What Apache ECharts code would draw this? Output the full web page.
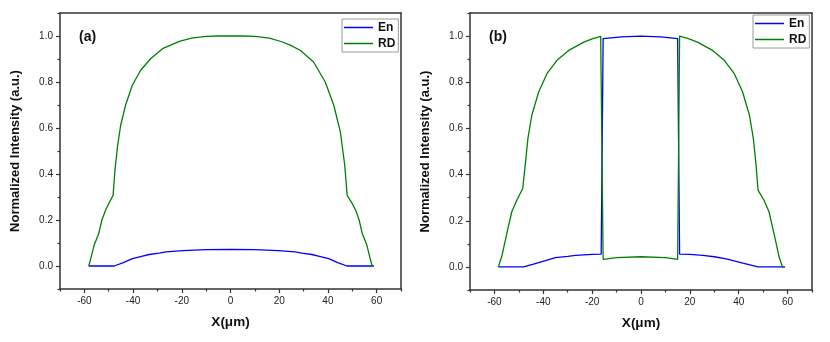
<!DOCTYPE html>
<html>
<head>
<meta charset="utf-8">
<script src="https://cdn.jsdelivr.net/npm/echarts@6/dist/echarts.min.js"></script>
<style>
  html, body { margin: 0; padding: 0; background: #fff; }
  #chart { width: 830px; height: 342px; }
</style>
</head>
<body>
<div id="chart"></div>
<script>
// panel (a)
const enA = [[-58.2,0],[-47.8,0],[-44,0.015],[-40.3,0.032],[-36.5,0.042],[-33.4,0.05],[-29.3,0.056],[-26.5,0.061],
  [-19.6,0.067],[-10,0.071],[0,0.072],[10,0.071],[19.6,0.067],[26.5,0.061],[29.3,0.056],[33.4,0.05],[36.5,0.042],
  [40.3,0.032],[44,0.015],[47.8,0],[58.8,0]]
const rdA = [[-58.2,0],[-57.2,0.04],[-56,0.09],[-54.1,0.141],[-52.8,0.2],[-51.3,0.242],[-49.8,0.275],[-48.2,0.307],
  [-47.5,0.409],[-46.5,0.51],[-45.1,0.612],[-43.1,0.699],[-40.3,0.786],[-36.9,0.851],[-32.7,0.902],[-27.9,0.945],
  [-21,0.977],[-16,0.991],[-10,0.998],[-5,1.0],[0,1.0],[5,1.0],[10,0.998],[16,0.991],[21,0.975],[24.5,0.96],
  [28.6,0.938],[34.1,0.887],[38.9,0.8],[42.4,0.699],[45.1,0.583],[46.9,0.438],[47.9,0.307],[50,0.271],
  [51.5,0.24],[52.8,0.2],[54.1,0.141],[56,0.09],[57.4,0.03],[58.2,0],[58.8,0]]
// panel (b)
const enB = [[-58.4,0],[-48.1,0],[-44,0.012],[-40.5,0.023],[-35,0.04],[-30,0.046],[-26.8,0.05],[-20,0.054],
  [-16.3,0.055],[-15.5,0.989],[-8,0.997],[0,1.0],[8,0.997],[15,0.989],[15.8,0.055],[20,0.054],[25.3,0.05],
  [30,0.044],[34.9,0.035],[41.7,0.016],[47.9,0],[58.9,0]]
const rdB = [[-58.4,0],[-57,0.045],[-54.9,0.146],[-52.9,0.239],[-50.8,0.29],[-48.4,0.34],[-47.4,0.441],[-46.3,0.556],
  [-44.7,0.657],[-41.9,0.758],[-38.5,0.837],[-34.4,0.895],[-29.6,0.938],[-23.4,0.974],[-20,0.988],[-16.5,0.999],
  [-16.3,1.0],[-15.5,0.033],[-10,0.04],[0,0.044],[10,0.04],[15,0.033],[15.8,1.0],[16.2,0.999],[19.7,0.988],
  [23.1,0.974],[29.3,0.938],[34.1,0.895],[38.2,0.837],[41.6,0.758],[44.4,0.657],[46,0.556],[47.1,0.441],
  [47.9,0.333],[50.3,0.29],[52.4,0.239],[54.4,0.146],[56.5,0.045],[57.9,0],[58.9,0]]

const xMajor = [-60, -40, -20, 0, 20, 40, 60]
const xMinor = [-70, -50, -30, -10, 10, 30, 50, 70]
const yMajor = [0, 0.2, 0.4, 0.6, 0.8, 1.0]
const yMinor = [-0.1, 0.1, 0.3, 0.5, 0.7, 0.9, 1.1]
const panelTags = ['(a)', '(b)']

const font = '"Liberation Sans", Arial, sans-serif'
const lineCol = '#333'

function xAxes(g) {
  const base = { gridIndex: g, type: 'value', min: -70, max: 70, interval: 10, splitLine: { show: false } }
  return [
    Object.assign({}, base, {
      position: 'bottom',
      name: 'X(μm)', nameLocation: 'middle', nameGap: 26,
      nameTextStyle: { fontFamily: font, fontSize: 13.5, fontWeight: 'bold', color: '#111' },
      axisLine: { show: true, onZero: false, lineStyle: { color: lineCol, width: 1.5 } },
      axisTick: { show: true, length: 4, customValues: xMajor, lineStyle: { color: lineCol, width: 1.2 } },
      axisLabel: { customValues: xMajor, margin: 7, fontFamily: font, fontSize: 10, color: '#222' }
    }),
    Object.assign({}, base, {
      position: 'bottom',
      axisLine: { show: false, onZero: false },
      axisTick: { show: true, length: 2.5, customValues: xMinor, lineStyle: { color: lineCol, width: 1.2 } },
      axisLabel: { show: false }
    }),
    Object.assign({}, base, {
      position: 'top',
      axisLine: { show: true, onZero: false, lineStyle: { color: lineCol, width: 1.5 } },
      axisTick: { show: false }, axisLabel: { show: false }
    })
  ]
}

function yAxes(g) {
  const base = { gridIndex: g, type: 'value', min: -0.1, max: 1.1, interval: 0.1, splitLine: { show: false } }
  return [
    Object.assign({}, base, {
      position: 'left',
      name: 'Normalized Intensity (a.u.)', nameLocation: 'middle', nameGap: 38,
      nameTextStyle: { fontFamily: font, fontSize: 13, fontWeight: 'bold', color: '#111' },
      axisLine: { show: true, onZero: false, lineStyle: { color: lineCol, width: 1.5 } },
      axisTick: { show: true, length: 4, customValues: yMajor, lineStyle: { color: lineCol, width: 1.2 } },
      axisLabel: { customValues: yMajor, margin: 7, fontFamily: font, fontSize: 10, color: '#222',
        formatter: v => v.toFixed(1) }
    }),
    Object.assign({}, base, {
      position: 'left',
      axisLine: { show: false, onZero: false },
      axisTick: { show: true, length: 2.5, customValues: yMinor, lineStyle: { color: lineCol, width: 1.2 } },
      axisLabel: { show: false }
    }),
    Object.assign({}, base, {
      position: 'right',
      axisLine: { show: true, onZero: false, lineStyle: { color: lineCol, width: 1.5 } },
      axisTick: { show: false }, axisLabel: { show: false }
    })
  ]
}

function lineSeries(name, data, g, color) {
  return {
    name: name, type: 'line', data: data, symbol: 'none',
    xAxisIndex: g * 3, yAxisIndex: g * 3,
    lineStyle: { color: color, width: 1.3 }, itemStyle: { color: color },
    animation: false
  }
}

function legendAt(left, top) {
  return {
    left: left, top: top, orient: 'vertical',
    data: ['En', 'RD'],
    icon: 'rect',
    itemWidth: 29, itemHeight: 1.5, itemGap: 3,
    padding: [2, 3, 2, 2],
    borderColor: '#999', borderWidth: 1,
    textStyle: { fontFamily: font, fontSize: 12, fontWeight: 'bold', color: '#111', lineHeight: 13 }
  }
}

const chart = echarts.init(document.getElementById('chart'))
chart.setOption({
  animation: false,
  grid: [
    { left: 60, top: 13, width: 341, height: 276 },
    { left: 470, top: 13, width: 342, height: 277 }
  ],
  xAxis: xAxes(0).concat(xAxes(1)),
  yAxis: yAxes(0).concat(yAxes(1)),
  legend: [legendAt(342, 19), legendAt(753, 15)],
  graphic: [
    { type: 'text', left: 79, top: 30, style: { text: panelTags[0], font: 'bold 14px ' + font, fill: '#111' } },
    { type: 'text', left: 489, top: 30, style: { text: panelTags[1], font: 'bold 14px ' + font, fill: '#111' } }
  ],
  series: [
    lineSeries('En', enA, 0, '#0000ff'),
    lineSeries('RD', rdA, 0, '#008000'),
    lineSeries('En', enB, 1, '#0000ff'),
    lineSeries('RD', rdB, 1, '#008000')
  ]
})
</script>
</body>
</html>
